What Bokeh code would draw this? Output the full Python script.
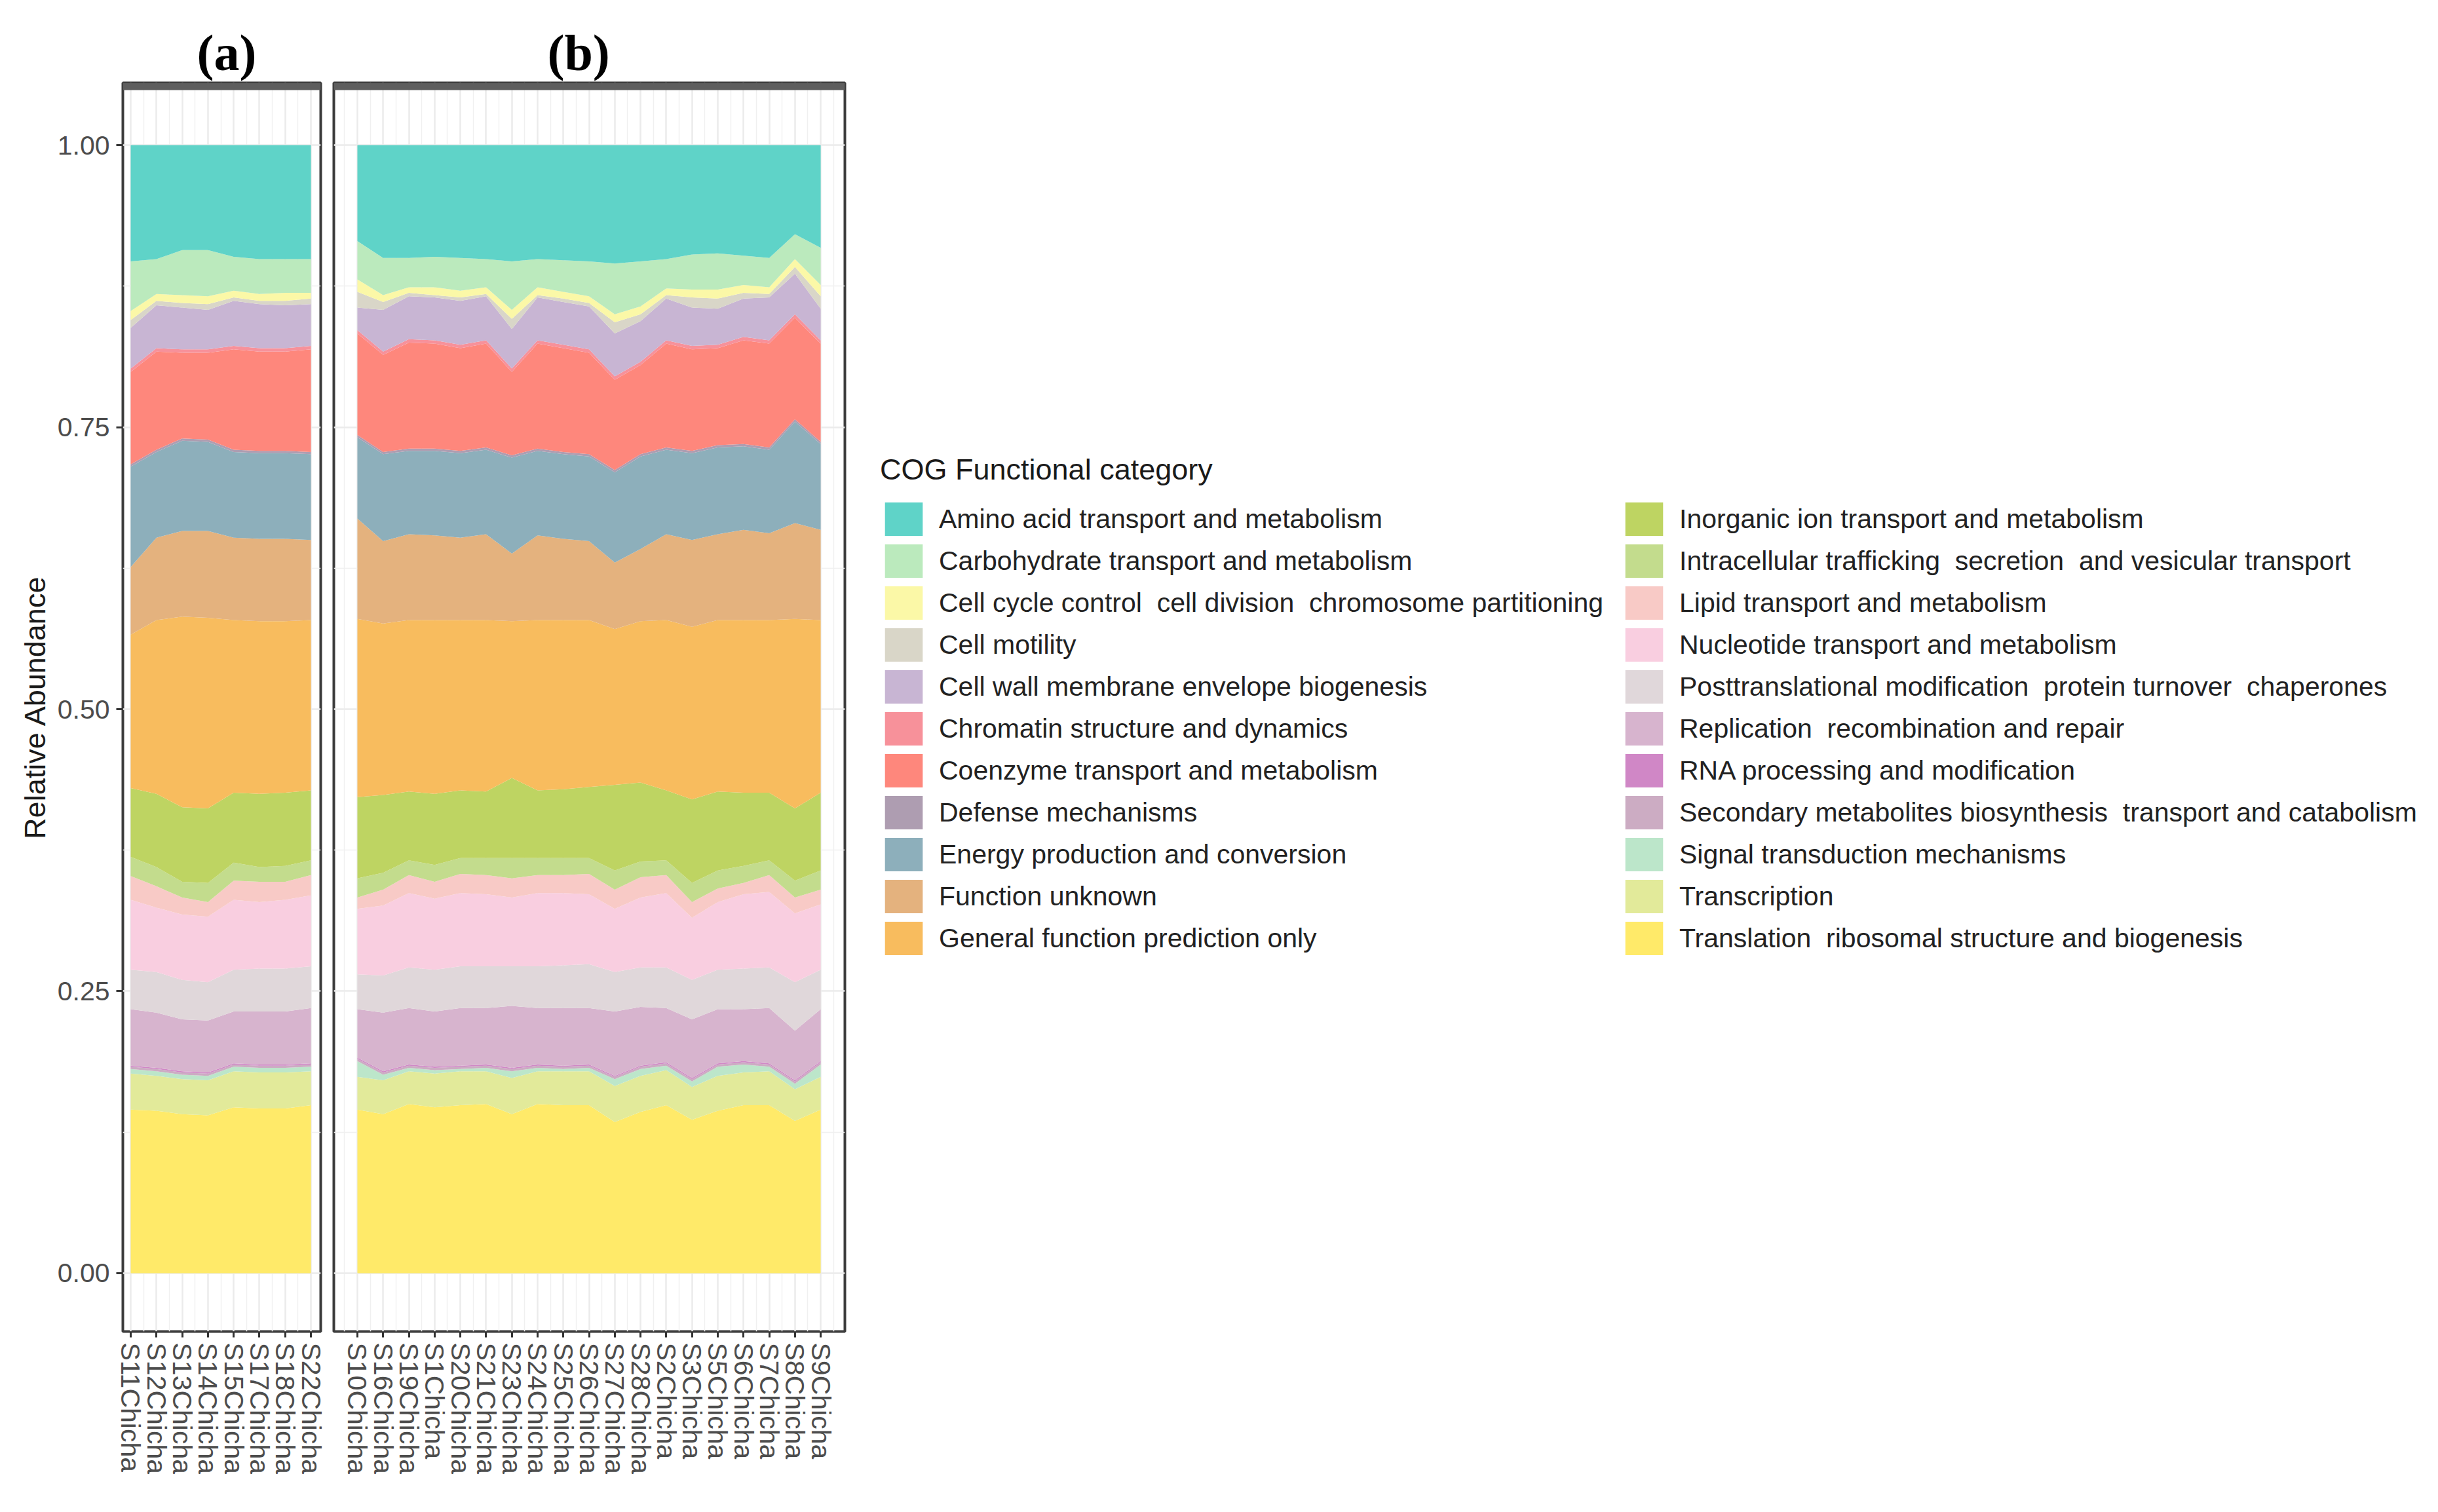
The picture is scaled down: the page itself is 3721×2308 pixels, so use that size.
import pandas as pd
from bokeh.plotting import figure
from bokeh.layouts import row
from bokeh.models import (ColumnDataSource, Range1d, FixedTicker, PrintfTickFormatter,
                          Legend, LegendItem, BoxAnnotation)
from bokeh.embed import file_html
from bokeh.resources import INLINE

# ---------------- data ----------------
samples_a = ["S11Chicha", "S12Chicha", "S13Chicha", "S14Chicha", "S15Chicha",
             "S17Chicha", "S18Chicha", "S22Chicha"]
samples_b = ["S10Chicha", "S16Chicha", "S19Chicha", "S1Chicha", "S20Chicha", "S21Chicha",
             "S23Chicha", "S24Chicha", "S25Chicha", "S26Chicha", "S27Chicha", "S28Chicha",
             "S2Chicha", "S3Chicha", "S5Chicha", "S6Chicha", "S7Chicha", "S8Chicha", "S9Chicha"]

categories = [
    "Amino acid transport and metabolism",
    "Carbohydrate transport and metabolism",
    "Cell cycle control  cell division  chromosome partitioning",
    "Cell motility",
    "Cell wall membrane envelope biogenesis",
    "Chromatin structure and dynamics",
    "Coenzyme transport and metabolism",
    "Defense mechanisms",
    "Energy production and conversion",
    "Function unknown",
    "General function prediction only",
    "Inorganic ion transport and metabolism",
    "Intracellular trafficking  secretion  and vesicular transport",
    "Lipid transport and metabolism",
    "Nucleotide transport and metabolism",
    "Posttranslational modification  protein turnover  chaperones",
    "Replication  recombination and repair",
    "RNA processing and modification",
    "Secondary metabolites biosynthesis  transport and catabolism",
    "Signal transduction mechanisms",
    "Transcription",
    "Translation  ribosomal structure and biogenesis",
]

colors = ["#5FD3C8", "#BBEABD", "#FBF8A7", "#D9D6C8", "#C8B5D3", "#F7919A", "#FE877C",
          "#AE9DB1", "#8DAFBB", "#E4B27E", "#F8BC5E", "#BED462", "#C3DC8D", "#F8CAC6",
          "#F9CEE0", "#E0D7DA", "#D7B4CE", "#D087C6", "#CCACC3", "#BCE6CA", "#E2EA9A",
          "#FFEA69"]

# values: 8 samples of panel (a) followed by 19 samples of panel (b)
amino = [0.103, 0.101, 0.093, 0.093, 0.099, 0.101, 0.101, 0.101,
         0.085, 0.100, 0.100, 0.099, 0.100, 0.101, 0.103, 0.101, 0.102, 0.103, 0.105, 0.103,
         0.101, 0.097, 0.096, 0.098, 0.100, 0.079, 0.091]
carbohydrate = [0.044, 0.031, 0.040, 0.041, 0.030, 0.031, 0.030, 0.030,
                0.034, 0.033, 0.026, 0.027, 0.029, 0.025, 0.043, 0.025, 0.028, 0.031, 0.045,
                0.040, 0.026, 0.031, 0.032, 0.026, 0.026, 0.022, 0.033]
cell_cycle = [0.008, 0.006, 0.007, 0.007, 0.006, 0.006, 0.007, 0.005,
              0.011, 0.006, 0.005, 0.007, 0.006, 0.006, 0.008, 0.007, 0.006, 0.006, 0.007,
              0.007, 0.006, 0.007, 0.008, 0.007, 0.006, 0.007, 0.010]
cell_motility = [0.007, 0.004, 0.004, 0.005, 0.003, 0.003, 0.004, 0.005,
                 0.014, 0.007, 0.003, 0.002, 0.003, 0.002, 0.009, 0.002, 0.003, 0.003, 0.010,
                 0.006, 0.003, 0.009, 0.009, 0.005, 0.003, 0.006, 0.011]
cell_wall = [0.036, 0.038, 0.037, 0.035, 0.040, 0.039, 0.038, 0.037,
             0.020, 0.037, 0.038, 0.038, 0.039, 0.039, 0.035, 0.038, 0.038, 0.038, 0.038,
             0.036, 0.037, 0.034, 0.032, 0.034, 0.038, 0.036, 0.028]
chromatin = [0.003] * 8 + [0.003] * 19
coenzyme = [0.082, 0.087, 0.076, 0.077, 0.089, 0.088, 0.088, 0.091,
            0.090, 0.086, 0.094, 0.093, 0.091, 0.092, 0.074, 0.093, 0.092, 0.090, 0.080,
            0.079, 0.092, 0.090, 0.086, 0.092, 0.092, 0.090, 0.087]
defense = [0.002] * 8 + [0.002] * 19
energy = [0.089, 0.076, 0.080, 0.079, 0.076, 0.076, 0.076, 0.076,
          0.072, 0.077, 0.074, 0.075, 0.075, 0.075, 0.085, 0.075, 0.075, 0.075, 0.080,
          0.082, 0.075, 0.077, 0.077, 0.074, 0.074, 0.090, 0.076]
function_unknown = [0.060, 0.073, 0.076, 0.077, 0.073, 0.073, 0.073, 0.071,
                    0.089, 0.073, 0.076, 0.075, 0.073, 0.076, 0.060, 0.075, 0.072, 0.070, 0.059,
                    0.064, 0.076, 0.077, 0.076, 0.080, 0.077, 0.085, 0.080]
general_function = [0.136, 0.154, 0.169, 0.169, 0.153, 0.153, 0.152, 0.151,
                    0.158, 0.152, 0.152, 0.154, 0.151, 0.152, 0.139, 0.151, 0.150, 0.148, 0.138,
                    0.143, 0.151, 0.153, 0.152, 0.153, 0.153, 0.168, 0.153]
inorganic_ion = [0.061, 0.065, 0.066, 0.066, 0.062, 0.065, 0.065, 0.062,
                 0.072, 0.069, 0.061, 0.063, 0.060, 0.059, 0.071, 0.060, 0.061, 0.063, 0.076,
                 0.070, 0.062, 0.074, 0.070, 0.065, 0.060, 0.064, 0.069]
intracellular = [0.017, 0.017, 0.014, 0.017, 0.016, 0.013, 0.014, 0.013,
                 0.017, 0.015, 0.013, 0.015, 0.014, 0.015, 0.018, 0.015, 0.015, 0.014, 0.017,
                 0.014, 0.013, 0.017, 0.016, 0.015, 0.013, 0.015, 0.017]
lipid = [0.021, 0.019, 0.015, 0.013, 0.017, 0.018, 0.016, 0.018,
         0.010, 0.014, 0.016, 0.015, 0.017, 0.017, 0.017, 0.016, 0.016, 0.018, 0.017,
         0.018, 0.016, 0.014, 0.012, 0.010, 0.015, 0.014, 0.013]
nucleotide = [0.062, 0.057, 0.058, 0.058, 0.062, 0.059, 0.061, 0.063,
              0.058, 0.062, 0.066, 0.063, 0.065, 0.064, 0.061, 0.065, 0.064, 0.062, 0.056,
              0.062, 0.066, 0.055, 0.060, 0.066, 0.067, 0.061, 0.058]
posttranslational = [0.035, 0.036, 0.035, 0.034, 0.037, 0.038, 0.038, 0.037,
                     0.031, 0.033, 0.036, 0.037, 0.037, 0.037, 0.035, 0.037, 0.038, 0.039, 0.035,
                     0.035, 0.036, 0.035, 0.035, 0.036, 0.036, 0.043, 0.035]
replication = [0.050, 0.049, 0.046, 0.046, 0.046, 0.047, 0.047, 0.049,
               0.043, 0.052, 0.050, 0.049, 0.051, 0.050, 0.055, 0.050, 0.051, 0.050, 0.057,
               0.052, 0.048, 0.052, 0.048, 0.046, 0.049, 0.044, 0.046]
rna_processing = [0.001] * 8 + [0.001] * 19
secondary_metabolites = [0.002] * 8 + [0.002] * 19
signal_transduction = [0.004, 0.004, 0.004, 0.004, 0.004, 0.004, 0.004, 0.004,
                       0.014, 0.005, 0.003, 0.003, 0.002, 0.003, 0.006, 0.003, 0.002, 0.003, 0.006,
                       0.006, 0.004, 0.005, 0.008, 0.007, 0.004, 0.005, 0.011]
transcription = [0.032, 0.031, 0.031, 0.031, 0.032, 0.032, 0.032, 0.030,
                 0.029, 0.030, 0.029, 0.030, 0.030, 0.029, 0.032, 0.029, 0.030, 0.030, 0.032,
                 0.032, 0.031, 0.029, 0.031, 0.029, 0.030, 0.028, 0.029]
translation = [0.145, 0.144, 0.141, 0.140, 0.147, 0.146, 0.146, 0.149,
               0.145, 0.141, 0.150, 0.147, 0.149, 0.150, 0.141, 0.150, 0.149, 0.149, 0.134,
               0.143, 0.149, 0.136, 0.144, 0.149, 0.149, 0.135, 0.145]

series = [amino, carbohydrate, cell_cycle, cell_motility, cell_wall, chromatin, coenzyme,
          defense, energy, function_unknown, general_function, inorganic_ion, intracellular,
          lipid, nucleotide, posttranslational, replication, rna_processing,
          secondary_metabolites, signal_transduction, transcription, translation]

y_ticks = [0.0, 0.25, 0.5, 0.75, 1.0]

SANS = "Liberation Sans"
SERIF = "Liberation Serif"
AXIS_TXT = "#4D4D4D"
GRID = "#EBEBEB"

FRAME_H = 1906
TOP_B = 126
BOT_B = 276
Y_LO, Y_HI = -0.0517, 1.0552


def make_panel(names, lo, hi, x_start, x_end, frame_w, border_l, border_r, label,
               title_offset, with_y):
    df = pd.DataFrame({c: s[lo:hi] for c, s in zip(categories, series)})
    df = df.div(df.sum(axis=1), axis=0)          # relative abundance (fill)
    df["x"] = list(range(len(names)))
    src = ColumnDataSource(df)

    p = figure(frame_width=frame_w, frame_height=FRAME_H,
               min_border_left=border_l, min_border_right=border_r,
               min_border_top=TOP_B, min_border_bottom=BOT_B,
               x_range=Range1d(x_start, x_end), y_range=Range1d(Y_LO, Y_HI),
               y_axis_location="left" if with_y else None,
               output_backend="svg", toolbar_location=None,
               background_fill_color="white", border_fill_color="white")

    stack = categories[::-1]                     # bottom layer first
    stack_colors = [colors[categories.index(c)] for c in stack]
    p.varea_stack(stackers=stack, x="x", fill_color=stack_colors, source=src)

    n = len(names)
    xt = FixedTicker(ticks=list(range(n)), minor_ticks=[i - 0.5 for i in range(n + 1)])
    yt = FixedTicker(ticks=y_ticks, minor_ticks=[0.125, 0.375, 0.625, 0.875])

    p.xgrid.ticker = xt
    p.ygrid.ticker = yt
    for g in (p.xgrid, p.ygrid):
        g.grid_line_color = GRID
        g.grid_line_width = 2.5
        g.minor_grid_line_color = "#F0F0F0"
        g.minor_grid_line_width = 1.5

    xa = p.xaxis[0]
    xa.ticker = xt
    xa.major_label_overrides = {i: nm for i, nm in enumerate(names)}
    xa.major_label_orientation = "vertical"
    xa.major_label_text_font = SANS
    xa.major_label_text_font_size = "41px"
    xa.major_label_text_color = AXIS_TXT
    xa.major_label_standoff = 8
    xa.major_tick_out = 9
    xa.major_tick_in = 0
    xa.major_tick_line_color = "#333333"
    xa.major_tick_line_width = 3
    xa.minor_tick_line_color = None
    xa.axis_line_color = None

    if with_y:
        ya = p.yaxis[0]
        ya.ticker = yt
        ya.formatter = PrintfTickFormatter(format="%.2f")
        ya.major_label_text_font = SANS
        ya.major_label_text_font_size = "41px"
        ya.major_label_text_color = AXIS_TXT
        ya.major_label_standoff = 10
        ya.major_tick_out = 10
        ya.major_tick_in = 0
        ya.major_tick_line_color = "#333333"
        ya.major_tick_line_width = 3
        ya.minor_tick_line_color = None
        ya.axis_line_color = None
        ya.axis_label = "Relative Abundance"
        ya.axis_label_text_font = SANS
        ya.axis_label_text_font_size = "45px"
        ya.axis_label_text_font_style = "normal"
        ya.axis_label_text_color = "#1A1A1A"
        ya.axis_label_standoff = 6

    p.outline_line_color = "#3C3C3C"
    p.outline_line_width = 4
    p.add_layout(BoxAnnotation(bottom=Y_HI - 11.0 / FRAME_H * (Y_HI - Y_LO), top=Y_HI,
                               fill_color="#5E5E5E", fill_alpha=1.0, line_color=None))

    p.title.text = label
    p.title.align = "left"
    p.title.offset = title_offset
    p.title.text_font = SERIF
    p.title.text_font_style = "bold"
    p.title.text_font_size = "78px"
    p.title.text_color = "#000000"
    p.title.standoff = 6
    return p


na = len(samples_a)
pa = make_panel(samples_a, 0, na, -0.305, 7.38, 302, 187, 10, "(a)", 113, True)
pb = make_panel(samples_b, na, na + len(samples_b), -0.916, 18.94, 780, 10, 6, "(b)", 326, False)

# ---------------- legend (same vertical frame as the panels) ----------------
lf = figure(frame_width=2410, frame_height=FRAME_H,
            min_border_left=0, min_border_right=0,
            min_border_top=TOP_B, min_border_bottom=BOT_B,
            x_axis_location=None, y_axis_location=None,
            x_range=Range1d(0, 1), y_range=Range1d(0, 1),
            output_backend="svg", toolbar_location=None)
lf.grid.visible = False
lf.outline_line_color = None

items = []
for c, col in zip(categories, colors):
    # key renderers kept outside this panel's visible range
    r = lf.varea(x=[5, 6], y1=[5, 5], y2=[6, 6], fill_color=col)
    items.append(LegendItem(label=c, renderers=[r]))

leg_style = dict(glyph_width=72, glyph_height=64, spacing=0, label_standoff=18,
                 padding=0, margin=0, border_line_color=None, background_fill_alpha=0,
                 label_text_font=SANS, label_text_font_size="41px",
                 label_text_color="#222222")
leg1 = Legend(items=items[:11], location=(48, 568), title="COG Functional category",
              title_text_font=SANS, title_text_font_size="45px",
              title_text_font_style="normal", title_text_color="#1A1A1A",
              title_standoff=17, **leg_style)
leg2 = Legend(items=items[11:], location=(1178, 568), **leg_style)
lf.add_layout(leg1)
lf.add_layout(leg2)

layout = row(pa, pb, lf, spacing=0)
open("out.html", "w").write(file_html(layout, INLINE))
